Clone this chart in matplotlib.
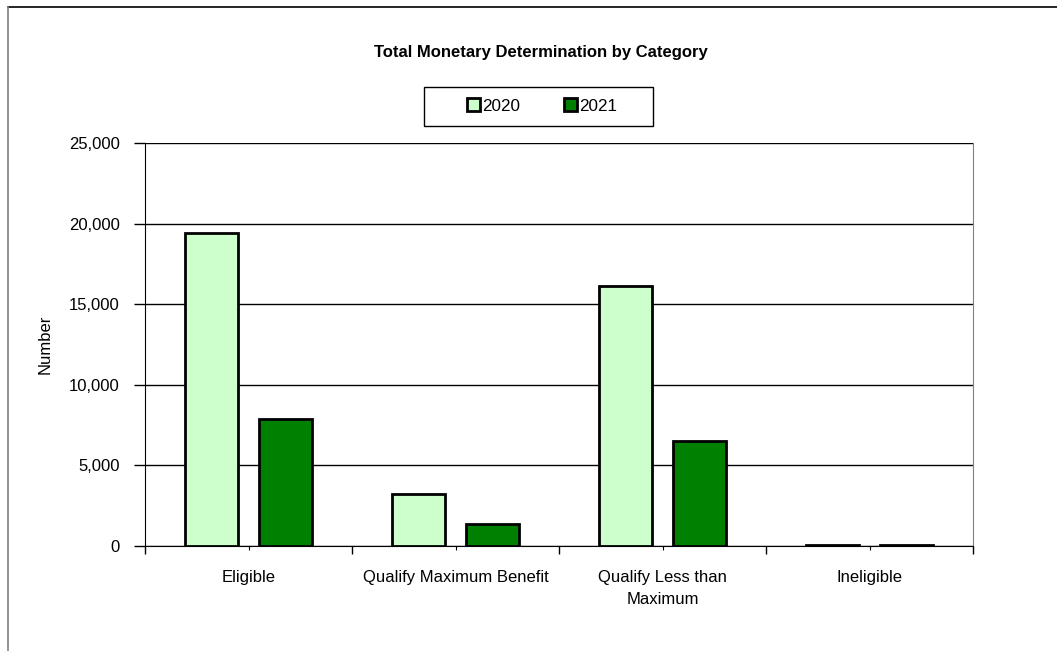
import matplotlib.pyplot as plt
import numpy as np
from matplotlib.ticker import FuncFormatter, FixedLocator
from matplotlib.lines import Line2D
from matplotlib.patches import Rectangle

plt.rcParams["font.family"] = ["Liberation Sans", "DejaVu Sans"]

categories = ["Eligible", "Qualify Maximum Benefit", "Qualify Less than\nMaximum", "Ineligible"]
years = ["2020", "2021"]
values_2020 = [19400, 3250, 16150, 40]
values_2021 = [7900, 1350, 6500, 40]
colors = ["#ccffcc", "#008000"]

W, H = 1057, 651
fig = plt.figure(figsize=(W / 100, H / 100), dpi=100)
ax = fig.add_axes([145 / W, 1 - 546 / H, 828 / W, 403 / H])

x = np.arange(len(categories))
w = 0.256
off = 0.181
ax.bar(x - off, values_2020, w, color=colors[0], edgecolor="black", linewidth=2, label=years[0], zorder=3)
ax.bar(x + off, values_2021, w, color=colors[1], edgecolor="black", linewidth=2, label=years[1], zorder=3)

ax.set_xlim(-0.5, len(categories) - 0.5)
ax.set_ylim(0, 25000)
ax.set_yticks(np.arange(0, 25001, 5000))
ax.yaxis.set_major_formatter(FuncFormatter(lambda v, p: f"{int(v):,}"))
ax.grid(axis="y", color="black", linewidth=1, zorder=0)
ax.set_axisbelow(True)

# category boundaries as major ticks, centers carry the labels
ax.xaxis.set_major_locator(FixedLocator(np.arange(-0.5, len(categories), 1.0)))
ax.xaxis.set_minor_locator(FixedLocator(x))
ax.set_xticklabels([""] * (len(categories) + 1))
ax.set_xticklabels(categories, minor=True, fontsize=12, va="top", linespacing=1.6)
ax.tick_params(axis="x", which="major", length=6, width=1, direction="out")
ax.tick_params(axis="x", which="minor", length=3, width=0.8, direction="out", pad=14)
ax.tick_params(axis="y", length=8, width=1, labelsize=12, pad=10)

ax.spines["top"].set_visible(False)
ax.spines["right"].set_color("#808080")
ax.spines["left"].set_color("black")
ax.spines["bottom"].set_color("black")

ax.set_ylabel("Number", fontsize=12, labelpad=12)

fig.text(0.512, 0.92, "Total Monetary Determination by Category", ha="center", va="center",
         fontsize=12, fontweight="bold")

# legend box drawn separately, entries centred inside
fig.add_artist(Rectangle((424 / W, 1 - 126 / H), 229 / W, 39 / H, transform=fig.transFigure,
                         facecolor="white", edgecolor="black", linewidth=1, zorder=4))
leg = fig.legend(loc="center", bbox_to_anchor=(542 / W, 1 - 106 / H), ncol=2, frameon=False,
                 fontsize=12.3, handlelength=0.75, handleheight=0.75, handletextpad=0.1,
                 columnspacing=2.6, borderpad=0, borderaxespad=0)
leg.set_zorder(5)

# outer chart border (only top and left visible in reference)
fig.add_artist(Line2D([8 / W, 1.0], [1 - 7 / H] * 2, color="black", linewidth=1.2))
fig.add_artist(Line2D([8 / W] * 2, [0, 1 - 7 / H], color="#808080", linewidth=1.2))

fig.savefig("out.png", dpi=100, facecolor="white")
